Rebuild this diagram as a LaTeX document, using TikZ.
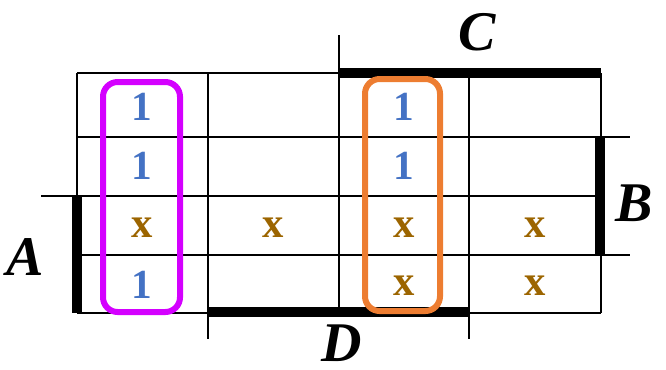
\documentclass[tikz,border=0pt]{standalone}
\usepackage{fontspec}
\setmainfont{Liberation Serif}
\usepackage{xcolor}
\usepackage{tikz}

\definecolor{onecol}{HTML}{4472C4}
\definecolor{dccol}{HTML}{9C6500}
\definecolor{grpmag}{HTML}{D400FF}
\definecolor{grporg}{HTML}{ED7D31}

\begin{document}
\begin{tikzpicture}[x=0.75pt,y=-0.75pt,
	gridline/.style={line width=1.5pt},
	varbar/.style={line width=8pt},
	one/.style={text=onecol,font=\fontsize{31}{31}\selectfont\bfseries},
	dc/.style={text=dccol,font=\fontsize{32}{32}\selectfont\bfseries},
	varname/.style={inner sep=0pt,font=\fontsize{42}{42}\selectfont\bfseries\itshape},
	group/.style={line width=4.5pt,rounded corners=11pt}]
			\useasboundingbox (0,0) rectangle (666,369);
			% grid of the map
			\draw [gridline] (77,73) -- (77,313);
			\draw [gridline] (208,73) -- (208,339);
			\draw [gridline] (339,35) -- (339,313);
			\draw [gridline] (469,73) -- (469,339);
			\draw [gridline] (601,73) -- (601,313);
			\draw [gridline] (77,73) -- (601,73);
			\draw [gridline] (77,137) -- (630,137);
			\draw [gridline] (41,196) -- (601,196);
			\draw [gridline] (77,255) -- (630,255);
			\draw [gridline] (77,313) -- (601,313);
			% variable bars
			\draw [varbar] (339,73) -- (601,73);
			\draw [varbar] (600,137) -- (600,255);
			\draw [varbar] (77,196) -- (77,313);
			\draw [varbar] (208,312) -- (469,312);
			\node [varname] (labC) at (477,32) {C};
			\node [varname] (labB) at (634,203) {B};
			\node [varname] (labA) at (25,257) {A};
			\node [varname] (labD) at (342,343) {D};
			% cell entries
			\foreach \name/\cx/\cy in {m11/142/107, m21/142/166, m41/142/285, m13/404/107, m23/404/166}
				\node [one] (\name) at (\cx,\cy) {1};
			\foreach \name/\cx/\cy in {m31/142/228, m32/273/228, m33/404/228, m34/535/228, m43/404/286, m44/535/286}
				\node [dc] (\name) at (\cx,\cy) {x};
			% groups
			\draw [group, grpmag] (103,82) rectangle (180,312);
			\draw [group, grporg] (365,79) rectangle (440,311);
		\end{tikzpicture}
\end{document}
